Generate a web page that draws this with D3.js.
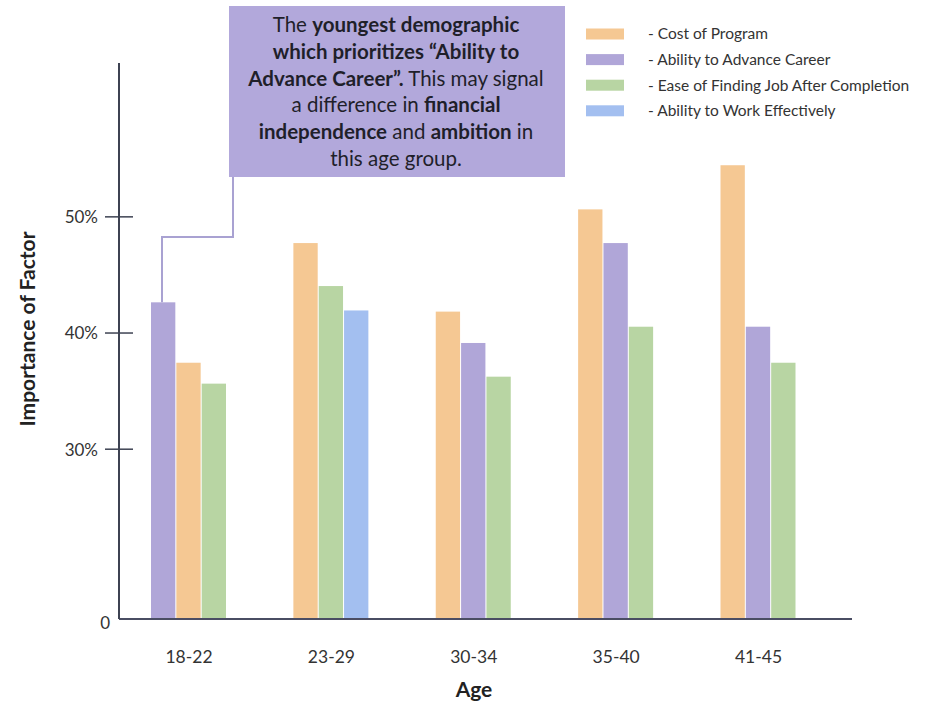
<!DOCTYPE html>
<html>
<head>
<meta charset="utf-8">
<script src="https://cdn.jsdelivr.net/npm/d3@7/dist/d3.min.js"></script>
<style>
  html, body { margin: 0; padding: 0; background: #ffffff; }
  svg { display: block; font-family: Lato, "Open Sans", sans-serif; }
</style>
</head>
<body>
<svg id="chart" width="930" height="701"></svg>
<script>
// Age groups along the x axis
const ages = ["18-22", "23-29", "30-34", "35-40", "41-45"];

// Importance (%) of each factor per age group; null = not shown
const costOfProgram    = [37.4, 47.7, 41.8, 50.6, 54.4];
const advanceCareer    = [42.6, null, 39.1, 47.7, 40.5];
const easeFindingJob   = [35.6, 44.0, 36.2, 40.5, 37.4];
const workEffectively  = [null, 41.9, null, null, null];

// Series names and legend labels
const seriesKeys   = ["cost", "advance", "ease", "work"];
const seriesLabels = ["- Cost of Program", "- Ability to Advance Career",
                      "- Ease of Finding Job After Completion", "- Ability to Work Effectively"];

// Left-to-right order of bars inside each age group
const barOrder = [
  ["advance", "cost", "ease"],
  ["cost", "ease", "work"],
  ["cost", "advance", "ease"],
  ["cost", "advance", "ease"],
  ["cost", "advance", "ease"]
];

// Y axis ticks (axis is broken between 0 and 30%)
const yTicks = [0, 30, 40, 50];

const seriesValues = { cost: costOfProgram, advance: advanceCareer, ease: easeFindingJob, work: workEffectively };
const colors = { cost: "#f5c893", advance: "#b0a6d8", ease: "#b8d5a3", work: "#a3bff0" };

const svg = d3.select("#chart");

const axisX = 119, baseY = 619;
// piecewise scale: compressed 0–30, regular spacing above
const y = d3.scaleLinear().domain([0, 30, 63.2]).range([baseY, 448.7, 63]);
const x = d3.scalePoint().domain(ages).range([188.5, 758]);
const inner = d3.scaleBand().domain([0, 1, 2]).range([-37.5, 37.5]).paddingInner(0.04);

// Bars
const barData = [];
ages.forEach((age, i) => {
  barOrder[i].forEach((key, j) => {
    const v = seriesValues[key][i];
    if (v != null) barData.push({ age, key, slot: j, value: v });
  });
});

svg.append("g").selectAll("rect").data(barData).join("rect")
  .attr("x", d => x(d.age) + inner(d.slot))
  .attr("width", inner.bandwidth())
  .attr("y", d => y(d.value))
  .attr("height", d => y(0) - y(d.value))
  .attr("fill", d => colors[d.key]);

// X axis
const xAxis = svg.append("g").attr("transform", `translate(0,${baseY})`)
  .call(d3.axisBottom(x).tickSize(0).tickPadding(30));
xAxis.select(".domain").attr("d", `M${axisX},0H852`).attr("stroke", "#4a4d63").attr("stroke-width", 2);
xAxis.selectAll("text").attr("font-size", 17.5).attr("fill", "#333").attr("font-family", "Lato, sans-serif")
  .attr("y", 38).attr("dy", "0.35em");

// Y axis
const yAxis = svg.append("g").attr("transform", `translate(${axisX},0)`)
  .call(d3.axisLeft(y).tickValues(yTicks).tickSize(14).tickPadding(8)
    .tickFormat(d => d === 0 ? "0" : d + "%"));
yAxis.select(".domain").attr("d", `M0,${y(63.2)}V${baseY}`).attr("stroke", "#3d4252").attr("stroke-width", 2);
yAxis.selectAll(".tick line").attr("x1", 14).attr("stroke", "#3d4252").attr("stroke-width", 1.5)
  .filter(d => d === 0).remove();
yAxis.selectAll(".tick text").attr("font-size", 17).attr("fill", "#333").attr("font-family", "Lato, sans-serif")
  .attr("x", d => d === 0 ? -9 : -21)
  .attr("y", d => d === 0 ? 4 : 1);

// Axis titles
svg.append("text").attr("x", 474).attr("y", 697).attr("text-anchor", "middle")
  .attr("font-size", 21).attr("font-weight", "bold").attr("fill", "#222").text("Age");
svg.append("text").attr("transform", "translate(35,329) rotate(-90)").attr("text-anchor", "middle")
  .attr("font-size", 21).attr("font-weight", "bold").attr("fill", "#222").text("Importance of Factor");

// Annotation connector from the box to the 18-22 career bar
const boxX = 229, boxY = 6, boxW = 336, boxH = 171;
const target = barData.find(d => d.age === "18-22" && d.key === "advance");
const tx = x(target.age) + inner(target.slot) + 11;
svg.append("path")
  .attr("d", `M233,${boxY + boxH}V237H${tx}V${y(target.value)}`)
  .attr("fill", "none").attr("stroke", "#a9a2d2").attr("stroke-width", 2);

// Annotation box
svg.append("rect").attr("x", boxX).attr("y", boxY).attr("width", boxW).attr("height", boxH)
  .attr("fill", "#b2a8db");

const noteLines = [
  [["The ", false], ["youngest demographic", true]],
  [["which prioritizes \u201CAbility to", true]],
  [["Advance Career\u201D.", true], [" This may signal", false]],
  [["a difference in ", false], ["financial", true]],
  [["independence", true], [" and ", false], ["ambition", true], [" in", false]],
  [["this age group.", false]]
];
const note = svg.append("text").attr("text-anchor", "middle").attr("font-size", 20.5).attr("fill", "#1f1f2a");
noteLines.forEach((parts, i) => {
  const line = note.append("tspan").attr("x", boxX + boxW / 2 - 1).attr("y", 32 + i * 26.8);
  parts.forEach(([t, b]) => line.append("tspan").attr("font-weight", b ? "bold" : "normal").text(t));
});

// Legend
const legend = svg.append("g");
seriesKeys.forEach((k, i) => {
  const ly = 34 + i * 25.6;
  legend.append("rect").attr("x", 586).attr("y", ly - 5.5).attr("width", 38).attr("height", 11).attr("fill", colors[k]);
  legend.append("text").attr("x", 648).attr("y", ly).attr("dy", "0.35em")
    .attr("font-size", 15.5).attr("fill", "#333").text(seriesLabels[i]);
});
</script>
</body>
</html>
